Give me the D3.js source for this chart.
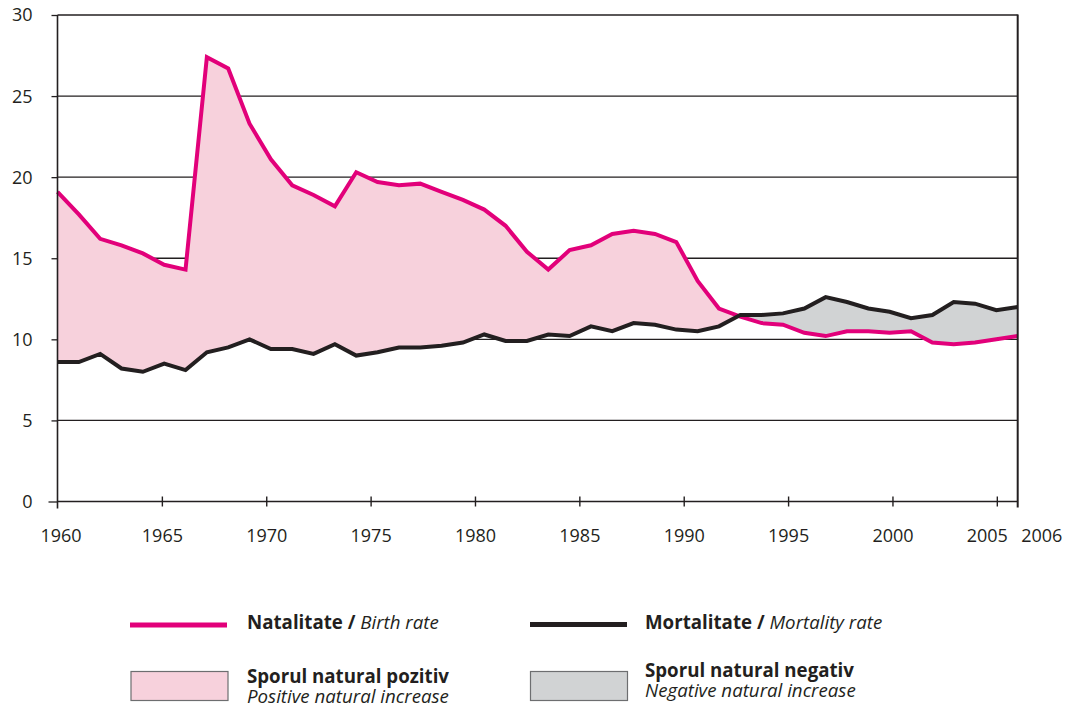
<!DOCTYPE html>
<html>
<head>
<meta charset="utf-8">
<script src="https://cdn.jsdelivr.net/npm/d3@7"></script>
<style>
  html, body { margin: 0; padding: 0; background: #fff; }
  svg { display: block; }
  text { font-family: "Open Sans", "Noto Sans", sans-serif; fill: #231f20; }
</style>
</head>
<body>
<svg id="chart" width="1067" height="707"></svg>
<script>
// ---- data ----
const years = [1960,1961,1962,1963,1964,1965,1966,1967,1968,1969,
               1970,1971,1972,1973,1974,1975,1976,1977,1978,1979,
               1980,1981,1982,1983,1984,1985,1986,1987,1988,1989,
               1990,1991,1992,1993,1994,1995,1996,1997,1998,1999,
               2000,2001,2002,2003,2004,2005];
const birthRate = [19.1,17.7,16.2,15.8,15.3,14.6,14.3,27.4,26.7,23.3,
                   21.1,19.5,18.9,18.2,20.3,19.7,19.5,19.6,19.1,18.6,
                   18.0,17.0,15.4,14.3,15.5,15.8,16.5,16.7,16.5,16.0,
                   13.6,11.9,11.4,11.0,10.9,10.4,10.2,10.5,10.5,10.4,
                   10.5,9.8,9.7,9.8,10.0,10.2];
const mortalityRate = [8.6,8.6,9.1,8.2,8.0,8.5,8.1,9.2,9.5,10.0,
                       9.4,9.4,9.1,9.7,9.0,9.2,9.5,9.5,9.6,9.8,
                       10.3,9.9,9.9,10.3,10.2,10.8,10.5,11.0,10.9,10.6,
                       10.5,10.8,11.5,11.5,11.6,11.9,12.6,12.3,11.9,11.7,
                       11.3,11.5,12.3,12.2,11.8,12.0];
const xTickLabels = [1960,1965,1970,1975,1980,1985,1990,1995,2000,2005,2006];
const yTickLabels = [0,5,10,15,20,25,30];

// ---- layout ----
const svg = d3.select("#chart");
const X0 = 57.5, X1 = 1017.7, Y0 = 501.5, Y1 = 15;
const INK = "#231f20", MAGENTA = "#e2007a", PINK = "#f7d1dc", GREY = "#d1d3d4";

const x = d3.scaleLinear().domain([years[0], years[years.length-1]]).range([X0, X1]);
const xAxisScale = d3.scaleLinear().domain([1960, 2006]).range([X0, X1]);
const y = d3.scaleLinear().domain([0, 30]).range([Y0, Y1]);

const data = years.map((yr, i) => ({year: yr, b: birthRate[i], m: mortalityRate[i]}));

// gridlines
svg.append("g").selectAll("line").data(yTickLabels.filter(d => d > 0)).join("line")
  .attr("x1", X0).attr("x2", X1)
  .attr("y1", d => y(d)).attr("y2", d => y(d))
  .attr("stroke", INK).attr("stroke-width", d => d <= 10 ? 1.1 : 1.4);

// clip paths
const defs = svg.append("defs");
defs.append("clipPath").attr("id", "aboveMort").append("path")
  .attr("d", d3.area().x(d => x(d.year)).y0(Y1 - 10).y1(d => y(d.m))(data));
defs.append("clipPath").attr("id", "aboveBirth").append("path")
  .attr("d", d3.area().x(d => x(d.year)).y0(Y1 - 10).y1(d => y(d.b))(data));

// positive increase (birth above mortality)
svg.append("path")
  .attr("d", d3.area().x(d => x(d.year)).y0(Y0).y1(d => y(d.b))(data))
  .attr("fill", PINK).attr("clip-path", "url(#aboveMort)");
// negative increase (mortality above birth)
svg.append("path")
  .attr("d", d3.area().x(d => x(d.year)).y0(Y0).y1(d => y(d.m))(data))
  .attr("fill", GREY).attr("clip-path", "url(#aboveBirth)");

// lines
svg.append("path")
  .attr("d", d3.line().x(d => x(d.year)).y(d => y(d.b))(data))
  .attr("fill", "none").attr("stroke", MAGENTA).attr("stroke-width", 4)
  .attr("stroke-linejoin", "miter");
svg.append("path")
  .attr("d", d3.line().x(d => x(d.year)).y(d => y(d.m))(data))
  .attr("fill", "none").attr("stroke", INK).attr("stroke-width", 4)
  .attr("stroke-linejoin", "miter");

// axes frame
svg.append("line").attr("x1", X0).attr("x2", X1).attr("y1", Y0).attr("y2", Y0)
  .attr("stroke", INK).attr("stroke-width", 1.5);
svg.append("line").attr("x1", X0).attr("x2", X0).attr("y1", Y1).attr("y2", Y0 + 7)
  .attr("stroke", INK).attr("stroke-width", 1.6);
svg.append("line").attr("x1", X1).attr("x2", X1).attr("y1", Y1 - 0.5).attr("y2", Y0 + 6)
  .attr("stroke", INK).attr("stroke-width", 2);

// x axis ticks
const xAxis = svg.append("g").attr("transform", `translate(0,${Y0})`)
  .call(d3.axisBottom(xAxisScale).tickValues(xTickLabels).tickFormat(d3.format("d")).tickSize(5));
xAxis.select(".domain").remove();
xAxis.selectAll(".tick line").attr("y1", -5).attr("y2", 5).attr("stroke", INK).attr("stroke-width", 1.4);
xAxis.selectAll(".tick").filter(d => d === 1960 || d === 2006).select("line").attr("stroke-width", 0);
xAxis.selectAll(".tick text")
  .attr("y", 40).attr("dy", 0)
  .style("font-size", "18px").style("font-family", '"Open Sans", sans-serif').attr("fill", INK)
  .attr("text-anchor", d => d === 2006 ? "start" : "middle")
  .attr("dx", d => d === 1960 ? 3 : d === 2005 ? -10 : d === 2006 ? 3 : 0);

// y axis ticks
const yAxis = svg.append("g").attr("transform", `translate(${X0},0)`)
  .call(d3.axisLeft(y).tickValues(yTickLabels).tickSize(6));
yAxis.select(".domain").remove();
yAxis.selectAll(".tick line").attr("stroke", INK).attr("stroke-width", 1.3)
  .attr("x2", d => d === 0 ? -9 : -6);
yAxis.selectAll(".tick text")
  .attr("x", -25).attr("dy", "0.33em")
  .style("font-size", "18px").style("font-family", '"Open Sans", sans-serif').attr("fill", INK);

// ---- legend ----
const lg = svg.append("g").style("font-size", "18.7px");
function legendLabel(xp, yp, bold, italic) {
  const t = lg.append("text").attr("x", xp).attr("y", yp);
  t.append("tspan").attr("font-weight", "bold").text(bold);
  if (italic) t.append("tspan").attr("font-style", "italic").text(italic);
  return t;
}
function legendBlock(xp, yp, bold, italic) {
  const t = lg.append("text").attr("x", xp).attr("y", yp);
  t.append("tspan").attr("font-weight", "bold").text(bold);
  t.append("tspan").attr("x", xp).attr("dy", 20).attr("font-style", "italic").text(italic);
  return t;
}
lg.append("line").attr("x1", 130).attr("x2", 227).attr("y1", 625).attr("y2", 625)
  .attr("stroke", MAGENTA).attr("stroke-width", 5);
legendLabel(247, 629, "Natalitate / ", "Birth rate");
lg.append("line").attr("x1", 530).attr("x2", 627).attr("y1", 624.5).attr("y2", 624.5)
  .attr("stroke", INK).attr("stroke-width", 5);
legendLabel(645, 629, "Mortalitate / ", "Mortality rate");

lg.append("rect").attr("x", 131).attr("y", 671.5).attr("width", 97).attr("height", 29)
  .attr("fill", PINK).attr("stroke", "#6d6e70").attr("stroke-width", 1.2);
legendBlock(247, 682.5, "Sporul natural pozitiv", "Positive natural increase");

lg.append("rect").attr("x", 530.5).attr("y", 671.5).attr("width", 97).attr("height", 29)
  .attr("fill", GREY).attr("stroke", "#6d6e70").attr("stroke-width", 1.2);
legendBlock(645, 677, "Sporul natural negativ", "Negative natural increase");
</script>
</body>
</html>
